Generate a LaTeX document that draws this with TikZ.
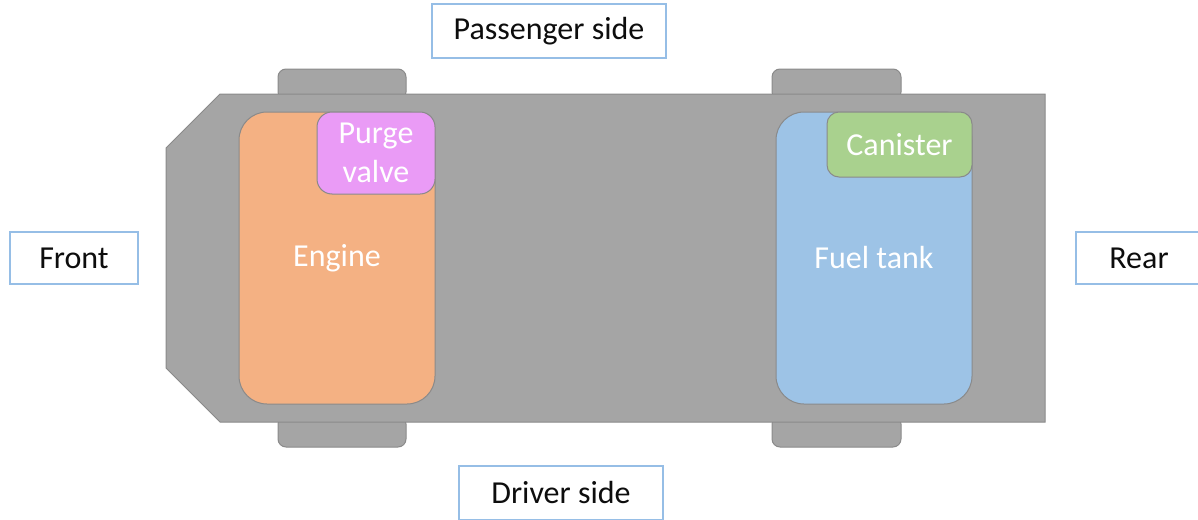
\documentclass[tikz,border=0pt]{standalone}
\usepackage{fontspec}
\setmainfont{Carlito}
\usetikzlibrary{positioning}
\definecolor{bodyGray}{RGB}{165,165,165}
\definecolor{edgeGray}{RGB}{138,138,138}
\definecolor{engineOrange}{RGB}{244,177,131}
\definecolor{valveViolet}{RGB}{234,155,246}
\definecolor{tankBlue}{RGB}{157,195,230}
\definecolor{canGreen}{RGB}{169,209,142}
\definecolor{labelBlue}{RGB}{150,190,230}
\definecolor{textDark}{RGB}{13,13,13}

\tikzset{
  partbox/.style={draw=edgeGray, line width=1pt, inner sep=0pt, outer sep=0pt,
    text=white, align=center, font=\fontsize{32}{39}\selectfont},
  sidelabel/.style={draw=labelBlue, line width=1.3pt, fill=white, inner sep=0pt,
    outer sep=0pt, minimum height=52pt, text=textDark,
    font=\fontsize{32}{39}\selectfont},
  wheel/.style={draw=edgeGray, line width=1pt, fill=bodyGray, rounded corners=8pt}
}

\begin{document}
\begin{tikzpicture}[x=1pt, y=-1pt]
  \clip (0,0) rectangle (1198,519);
  % Wheels (behind the body)
  \draw[wheel] (278,69) rectangle (406,100);
  \draw[wheel] (278,416) rectangle (406,447);
  \draw[wheel] (772,69) rectangle (901,100);
  \draw[wheel] (772,416) rectangle (901,447);
  % Car body with chamfered front
  \draw[edgeGray, line width=1pt, fill=bodyGray]
    (220,94) -- (1045,94) -- (1045,422) -- (220,422)
    -- (166,368) -- (166,148) -- cycle;
  % Engine and purge valve
  \node[partbox, fill=engineOrange, rounded corners=28pt, anchor=north west,
    minimum width=196pt, minimum height=292pt] (engine) at (239,112) {Engine};
  \node[partbox, fill=valveViolet, rounded corners=15pt, anchor=north east,
    minimum width=118pt, minimum height=82pt] (valve) at (engine.north east)
    {Purge\\valve};
  % Fuel tank and canister
  \node[partbox, fill=tankBlue, rounded corners=28pt, anchor=north west,
    minimum width=196pt, minimum height=292pt] (tank) at (776,112) {Fuel tank};
  \node[partbox, fill=canGreen, rounded corners=12pt, anchor=north east,
    minimum width=145pt, minimum height=65pt] (canister) at (tank.north east)
    {Canister};
  % Side labels
  \node[sidelabel, minimum width=234pt, minimum height=54pt] (passenger)
    at (549,31) {Passenger side};
  \node[sidelabel, minimum width=204pt, minimum height=54pt] (driver)
    at (561,493) {Driver side};
  \node[sidelabel, minimum width=128pt] (front) at (74,258) {Front};
  \node[sidelabel, minimum width=126pt] (rear) at (1139,258) {Rear};
\end{tikzpicture}
\end{document}
